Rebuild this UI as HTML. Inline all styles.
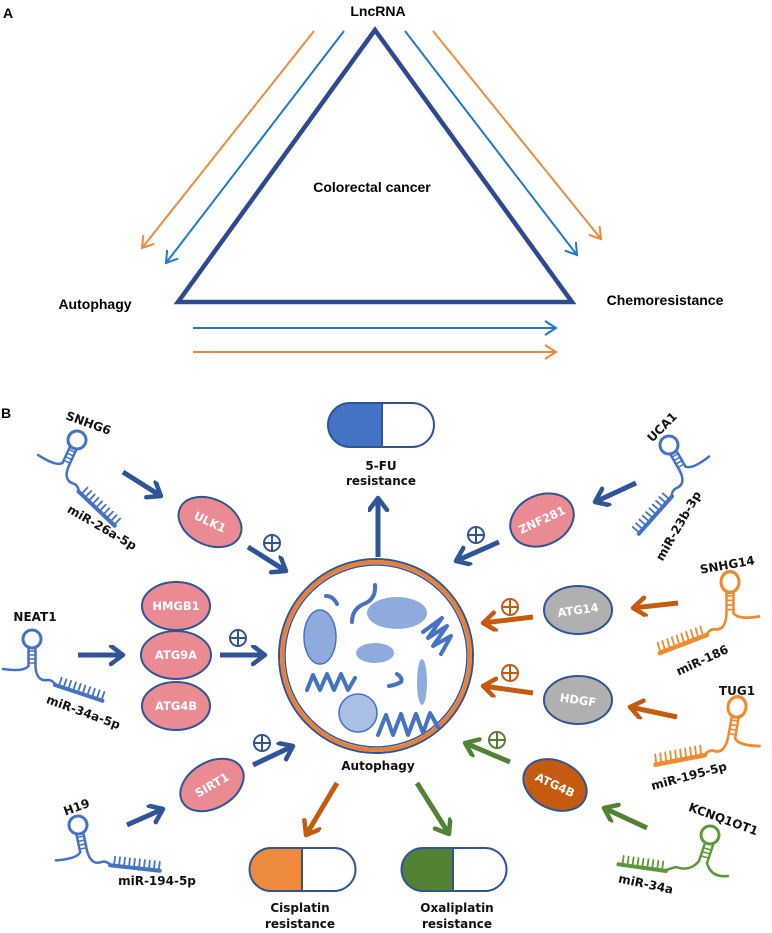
<!DOCTYPE html>
<html><head><meta charset="utf-8"><style>
html,body{margin:0;padding:0;background:#fff}
svg{display:block}
.a{font-family:"Liberation Sans",sans-serif;font-weight:bold;font-size:14px}
.b{font-family:"DejaVu Sans","Liberation Sans",sans-serif;font-weight:bold;font-size:12px;fill:#111}
.w{font-family:"DejaVu Sans","Liberation Sans",sans-serif;font-weight:bold;font-size:11.5px;fill:#fff}
</style></head><body>
<svg width="772" height="933" viewBox="0 0 772 933" xmlns="http://www.w3.org/2000/svg">
<defs>
<marker id="mN" markerUnits="userSpaceOnUse" markerWidth="24" markerHeight="24" refX="14" refY="10" orient="auto"><path d="M2,1 L14,10 L2,19" fill="none" stroke="#2f5597" stroke-width="4.5" stroke-linecap="round" stroke-linejoin="round"/></marker>
<marker id="mO" markerUnits="userSpaceOnUse" markerWidth="24" markerHeight="24" refX="14" refY="10" orient="auto"><path d="M2,1 L14,10 L2,19" fill="none" stroke="#c55a11" stroke-width="4.5" stroke-linecap="round" stroke-linejoin="round"/></marker>
<marker id="mG" markerUnits="userSpaceOnUse" markerWidth="24" markerHeight="24" refX="14" refY="10" orient="auto"><path d="M2,1 L14,10 L2,19" fill="none" stroke="#548235" stroke-width="4.5" stroke-linecap="round" stroke-linejoin="round"/></marker>
<marker id="aB" markerUnits="userSpaceOnUse" markerWidth="20" markerHeight="20" refX="12" refY="8" orient="auto"><path d="M1,1 L12,8 L1,15" fill="none" stroke="#1f78c8" stroke-width="2"/></marker>
<marker id="aO" markerUnits="userSpaceOnUse" markerWidth="20" markerHeight="20" refX="12" refY="8" orient="auto"><path d="M1,1 L12,8 L1,15" fill="none" stroke="#ee8a3c" stroke-width="2"/></marker>
<g id="rna" fill="none" stroke-linecap="round">
<circle cx="0" cy="0" r="9" stroke-width="3"/>
<line x1="-3.5" y1="8" x2="-3.5" y2="27" stroke-width="2.5"/>
<line x1="3.5" y1="8" x2="3.5" y2="27" stroke-width="2.5"/>
<path d="M-3.5,12 H3.5 M-3.5,16 H3.5 M-3.5,20 H3.5 M-3.5,24 H3.5" stroke-width="1.5"/>
<path d="M-3.5,27 Q-8,33 -29,30" stroke-width="2.5"/>
<path d="M3.5,27 C4,40 10,42 16,41 Q20,41 23,45" stroke-width="2.5"/>
<g transform="translate(23,46) rotate(18.4)">
<line x1="0" y1="0" x2="50" y2="0" stroke-width="4"/>
<path d="M4,0 V-9 M9,0 V-9 M14,0 V-9 M19,0 V-9 M24,0 V-9 M29,0 V-9 M34,0 V-9 M39,0 V-9 M44,0 V-9 M49,0 V-9" stroke-width="1.8"/>
</g>
</g>
<g id="plus" fill="none" stroke-width="2"><circle cx="0" cy="0" r="8"/><path d="M-8,0 H8 M0,-8 V8"/></g>
</defs>

<!-- Part A -->
<text x="3" y="18" class="a" font-size="17">A</text>
<text x="378" y="16" class="a" text-anchor="middle">LncRNA</text>
<text x="372" y="192" class="a" text-anchor="middle">Colorectal cancer</text>
<text x="95" y="309" class="a" text-anchor="middle">Autophagy</text>
<text x="665" y="305" class="a" text-anchor="middle">Chemoresistance</text>
<polygon points="375,30 178,302 572,302" fill="none" stroke="#2e4a8f" stroke-width="4.5" stroke-linejoin="miter"/>
<line x1="314" y1="31" x2="142" y2="248" stroke="#ee8a3c" stroke-width="2" marker-end="url(#aO)"/>
<line x1="344" y1="31" x2="166" y2="263" stroke="#1f78c8" stroke-width="2" marker-end="url(#aB)"/>
<line x1="405" y1="31" x2="577" y2="255" stroke="#1f78c8" stroke-width="2" marker-end="url(#aB)"/>
<line x1="433" y1="31" x2="601" y2="239" stroke="#ee8a3c" stroke-width="2" marker-end="url(#aO)"/>
<line x1="193" y1="328" x2="556" y2="328" stroke="#1f78c8" stroke-width="2" marker-end="url(#aB)"/>
<line x1="193" y1="352" x2="556" y2="352" stroke="#ee8a3c" stroke-width="2" marker-end="url(#aO)"/>

<!-- Part B -->
<text x="1" y="418" class="a" font-size="18">B</text>

<!-- 5-FU pill -->
<path d="M350,403 H382 V447 H350 A22,22 0 0 1 350,403 Z" fill="#4472c4" stroke="#2f5597" stroke-width="2"/>
<path d="M382,403 H412 A22,22 0 0 1 412,447 H382 Z" fill="#fff" stroke="#2f5597" stroke-width="2"/>
<text x="381" y="470" class="b" text-anchor="middle">5-FU</text>
<text x="381" y="485" class="b" text-anchor="middle">resistance</text>
<line x1="378" y1="557" x2="378" y2="498" stroke="#2f5597" stroke-width="5" marker-end="url(#mN)"/>

<!-- Cisplatin / Oxaliplatin -->
<path d="M271,848 H302 V891 H271 A21.5,21.5 0 0 1 271,848 Z" fill="#ee8a3c" stroke="#2f5597" stroke-width="2"/>
<path d="M302,848 H334 A21.5,21.5 0 0 1 334,891 H302 Z" fill="#fff" stroke="#2f5597" stroke-width="2"/>
<path d="M423,848 H453 V891 H423 A21.5,21.5 0 0 1 423,848 Z" fill="#548235" stroke="#2f5597" stroke-width="2"/>
<path d="M453,848 H485 A21.5,21.5 0 0 1 485,891 H453 Z" fill="#fff" stroke="#2f5597" stroke-width="2"/>
<text x="300" y="912" class="b" text-anchor="middle">Cisplatin</text>
<text x="300" y="928" class="b" text-anchor="middle">resistance</text>
<text x="457" y="912" class="b" text-anchor="middle">Oxaliplatin</text>
<text x="457" y="928" class="b" text-anchor="middle">resistance</text>
<line x1="337" y1="783" x2="306" y2="835" stroke="#c55a11" stroke-width="5" marker-end="url(#mO)"/>
<line x1="417" y1="783" x2="449" y2="834" stroke="#548235" stroke-width="5" marker-end="url(#mG)"/>

<!-- central autophagy cell -->
<circle cx="376" cy="656" r="97" fill="#fff" stroke="#2f5597" stroke-width="2"/>
<circle cx="376" cy="656" r="94" fill="none" stroke="#ed7d31" stroke-width="4"/>
<circle cx="376" cy="656" r="91" fill="none" stroke="#2f5597" stroke-width="1.5"/>
<g fill="#8faadc" stroke="#4472c4" stroke-width="1.5">
<ellipse cx="320" cy="637" rx="16" ry="27"/>
<ellipse cx="397" cy="613" rx="30" ry="16" stroke="none"/>
<ellipse cx="375" cy="653" rx="19" ry="10" stroke="none"/>
<ellipse cx="422" cy="682" rx="5" ry="23" stroke="none"/>
<circle cx="358" cy="713" r="19" fill="#a9bfe6"/>
</g>
<g fill="none" stroke="#4472c4" stroke-width="4" stroke-linecap="round" stroke-linejoin="round">
<path d="M307,690 L313,675 L320,690 L327,674 L334,690 L341,674 L348,690 L355,678"/>
<path d="M378,735 L386,715 L393,735 L401,714 L408,735 L416,714 L423,733 L430,713 L438,727"/>
<path d="M423,632 L442,618 L428,638 L447,626 L433,646 L451,636 L441,654"/>
<path d="M375,585 Q376,598 366,603 Q352,608 352,622"/>
<path d="M326,596 Q333,596 337,604"/>
<path d="M397,674 Q403,678 401,682 Q396,685 389,686"/>
</g>
<text x="378" y="770" class="b" text-anchor="middle">Autophagy</text>

<!-- Left: SNHG6 -->
<use href="#rna" transform="translate(77,440) rotate(25)" stroke="#4472c4"/>
<text x="0" y="0" class="b" transform="translate(87,427) rotate(20)" text-anchor="middle">SNHG6</text>
<text x="0" y="0" class="b" transform="translate(100,531) rotate(30)" text-anchor="middle">miR-26a-5p</text>
<line x1="123" y1="472" x2="161" y2="496" stroke="#2f5597" stroke-width="5" marker-end="url(#mN)"/>
<ellipse cx="210" cy="522" rx="33" ry="23" transform="rotate(25 210 522)" fill="#ea8a93" stroke="#2f5597" stroke-width="2"/>
<text x="0" y="4" class="w" text-anchor="middle" transform="translate(210,522) rotate(25)">ULK1</text>
<use href="#plus" transform="translate(272,543)" stroke="#2f5597"/>
<line x1="248" y1="547" x2="286" y2="571" stroke="#2f5597" stroke-width="5" marker-end="url(#mN)"/>

<!-- NEAT1 -->
<use href="#rna" transform="translate(32,639)" stroke="#4472c4"/>
<text x="35" y="621" class="b" text-anchor="middle">NEAT1</text>
<text x="0" y="0" class="b" transform="translate(82,716) rotate(20)" text-anchor="middle">miR-34a-5p</text>
<line x1="78" y1="655" x2="123" y2="655" stroke="#2f5597" stroke-width="5" marker-end="url(#mN)"/>
<g fill="#ea8a93" stroke="#2f5597" stroke-width="2">
<ellipse cx="176" cy="706" rx="34" ry="24"/>
<ellipse cx="176" cy="606" rx="34" ry="24"/>
<ellipse cx="176" cy="655" rx="35" ry="24"/>
</g>
<text x="176" y="610" class="w" text-anchor="middle">HMGB1</text>
<text x="176" y="659" class="w" text-anchor="middle">ATG9A</text>
<text x="176" y="710" class="w" text-anchor="middle">ATG4B</text>
<use href="#plus" transform="translate(238,638)" stroke="#2f5597"/>
<line x1="220" y1="655" x2="265" y2="655" stroke="#2f5597" stroke-width="5" marker-end="url(#mN)"/>

<!-- H19 -->
<use href="#rna" transform="translate(78,825) rotate(-12)" stroke="#4472c4"/>
<text x="0" y="0" class="b" transform="translate(78,811) rotate(-20)" text-anchor="middle">H19</text>
<text x="157" y="885" class="b" text-anchor="middle">miR-194-5p</text>
<line x1="127" y1="825" x2="163" y2="809" stroke="#2f5597" stroke-width="5" marker-end="url(#mN)"/>
<ellipse cx="212" cy="785" rx="34" ry="23" transform="rotate(-30 212 785)" fill="#ea8a93" stroke="#2f5597" stroke-width="2"/>
<text x="0" y="4" class="w" text-anchor="middle" transform="translate(212,785) rotate(-30)">SIRT1</text>
<use href="#plus" transform="translate(262,743)" stroke="#2f5597"/>
<line x1="253" y1="765" x2="293" y2="746" stroke="#2f5597" stroke-width="5" marker-end="url(#mN)"/>

<!-- UCA1 -->
<use href="#rna" transform="translate(669,445) rotate(-30) scale(-1,1)" stroke="#4472c4"/>
<text x="0" y="0" class="b" transform="translate(665,430) rotate(-45)" text-anchor="middle">UCA1</text>
<text x="0" y="0" class="b" transform="translate(682,528) rotate(-60)" text-anchor="middle">miR-23b-3p</text>
<line x1="636" y1="483" x2="595" y2="502" stroke="#2f5597" stroke-width="5" marker-end="url(#mN)"/>
<ellipse cx="542" cy="520" rx="33" ry="25" transform="rotate(-25 542 520)" fill="#ea8a93" stroke="#2f5597" stroke-width="2"/>
<text x="0" y="4" class="w" text-anchor="middle" transform="translate(542,520) rotate(-25)">ZNF281</text>
<use href="#plus" transform="translate(476,535)" stroke="#2f5597"/>
<line x1="499" y1="542" x2="456" y2="561" stroke="#2f5597" stroke-width="5" marker-end="url(#mN)"/>

<!-- SNHG14 -->
<use href="#rna" transform="translate(730,582) scale(-1,1.15)" stroke="#f08a30"/>
<text x="0" y="0" class="b" transform="translate(728,569) rotate(-10)" text-anchor="middle">SNHG14</text>
<text x="0" y="0" class="b" transform="translate(704,664) rotate(-25)" text-anchor="middle">miR-186</text>
<line x1="678" y1="603" x2="633" y2="608" stroke="#c55a11" stroke-width="5" marker-end="url(#mO)"/>
<ellipse cx="578" cy="610" rx="34" ry="24" fill="#b0b0b0" stroke="#2f5597" stroke-width="2"/>
<text x="0" y="4" class="w" text-anchor="middle" transform="translate(578,610) rotate(-8)">ATG14</text>
<use href="#plus" transform="translate(510,607)" stroke="#c55a11"/>
<line x1="533" y1="617" x2="483" y2="623" stroke="#c55a11" stroke-width="5" marker-end="url(#mO)"/>

<!-- TUG1 -->
<use href="#rna" transform="translate(737,707) rotate(10) scale(-1,1.15)" stroke="#f08a30"/>
<text x="737" y="695" class="b" text-anchor="middle">TUG1</text>
<text x="0" y="0" class="b" transform="translate(690,780) rotate(-15)" text-anchor="middle">miR-195-5p</text>
<line x1="677" y1="717" x2="630" y2="707" stroke="#c55a11" stroke-width="5" marker-end="url(#mO)"/>
<ellipse cx="578" cy="700" rx="34" ry="24" fill="#b0b0b0" stroke="#2f5597" stroke-width="2"/>
<text x="0" y="4" class="w" text-anchor="middle" transform="translate(578,700) rotate(8)">HDGF</text>
<use href="#plus" transform="translate(510,673)" stroke="#c55a11"/>
<line x1="533" y1="693" x2="483" y2="686" stroke="#c55a11" stroke-width="5" marker-end="url(#mO)"/>

<!-- KCNQ1OT1 -->
<g fill="none" stroke="#5a9a3a" stroke-linecap="round">
<circle cx="710" cy="835" r="9" stroke-width="3"/>
<line x1="705" y1="843" x2="699" y2="861" stroke-width="2.5"/>
<line x1="713" y1="845" x2="707" y2="863" stroke-width="2.5"/>
<path d="M704,848 L711,850 M703,852 L710,854 M701,856 L709,858" stroke-width="1.5"/>
<path d="M699,861 Q690,872 676,867 L666,870" stroke-width="2.5"/>
<path d="M707,863 Q711,878 728,876" stroke-width="2.5"/>
<g transform="translate(666,871) rotate(188)">
<line x1="0" y1="0" x2="48" y2="0" stroke-width="4"/>
<path d="M4,0 V9 M9,0 V9 M14,0 V9 M19,0 V9 M24,0 V9 M29,0 V9 M34,0 V9 M39,0 V9 M44,0 V9" stroke-width="1.8"/>
</g>
</g>
<text x="0" y="0" class="b" transform="translate(722,823) rotate(20)" text-anchor="middle">KCNQ1OT1</text>
<text x="0" y="0" class="b" transform="translate(645,888) rotate(12)" text-anchor="middle">miR-34a</text>
<line x1="647" y1="828" x2="604" y2="808" stroke="#548235" stroke-width="5" marker-end="url(#mG)"/>
<ellipse cx="555" cy="785" rx="33" ry="24" transform="rotate(25 555 785)" fill="#c55a11" stroke="#2f5597" stroke-width="2"/>
<text x="0" y="4" class="w" text-anchor="middle" transform="translate(555,785) rotate(25)">ATG4B</text>
<use href="#plus" transform="translate(497,740)" stroke="#548235"/>
<line x1="510" y1="762" x2="465" y2="743" stroke="#548235" stroke-width="5" marker-end="url(#mG)"/>
</svg>
</body></html>
